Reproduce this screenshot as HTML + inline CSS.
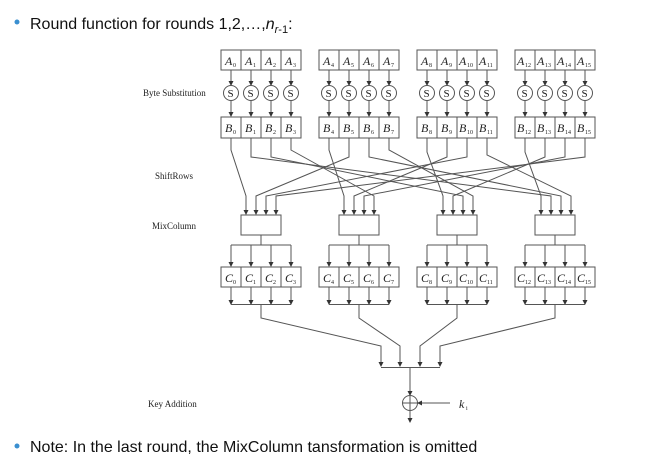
<!DOCTYPE html>
<html><head><meta charset="utf-8"><style>
body{margin:0;background:#fff;width:646px;height:476px;overflow:hidden}
svg{display:block}
.t{font-family:"Liberation Sans",Arial,sans-serif;font-size:16px;fill:#111}
.lab{font-family:"Liberation Serif",serif;font-size:9px;fill:#222}
.c{font-family:"Liberation Serif",serif;font-style:italic;font-size:12px;fill:#222}
.s{font-family:"Liberation Serif",serif;font-size:6px;fill:#222}
.S{font-family:"Liberation Serif",serif;font-size:11px;fill:#222}
line,path,rect,circle{stroke:#555;stroke-width:1;fill:none}
</style></head><body>
<svg width="646" height="476" xmlns="http://www.w3.org/2000/svg">
<defs>
<marker id="a" markerWidth="5" markerHeight="5" refX="4" refY="2.5" orient="auto" markerUnits="userSpaceOnUse"><path d="M0,0 L5,2.5 L0,5z" style="fill:#333;stroke:none"/></marker>
<g id="grp">
<rect x="0" y="50" width="80" height="20"/><line x1="20" y1="50" x2="20" y2="70"/><line x1="40" y1="50" x2="40" y2="70"/><line x1="60" y1="50" x2="60" y2="70"/>
<line x1="10" y1="70" x2="10" y2="85" marker-end="url(#a)"/><line x1="30" y1="70" x2="30" y2="85" marker-end="url(#a)"/><line x1="50" y1="70" x2="50" y2="85" marker-end="url(#a)"/><line x1="70" y1="70" x2="70" y2="85" marker-end="url(#a)"/>
<circle cx="10" cy="93" r="7.5"/><circle cx="30" cy="93" r="7.5"/><circle cx="50" cy="93" r="7.5"/><circle cx="70" cy="93" r="7.5"/>
<text class="S" x="6.5" y="97">S</text><text class="S" x="26.5" y="97">S</text><text class="S" x="46.5" y="97">S</text><text class="S" x="66.5" y="97">S</text>
<line x1="10" y1="100.5" x2="10" y2="116" marker-end="url(#a)"/><line x1="30" y1="100.5" x2="30" y2="116" marker-end="url(#a)"/><line x1="50" y1="100.5" x2="50" y2="116" marker-end="url(#a)"/><line x1="70" y1="100.5" x2="70" y2="116" marker-end="url(#a)"/>
<rect x="0" y="117" width="80" height="21"/><line x1="20" y1="117" x2="20" y2="138"/><line x1="40" y1="117" x2="40" y2="138"/><line x1="60" y1="117" x2="60" y2="138"/>
<rect x="20" y="215" width="40" height="20"/>
<line x1="40" y1="235" x2="40" y2="245"/><line x1="10" y1="245" x2="70" y2="245"/>
<line x1="10" y1="245" x2="10" y2="266" marker-end="url(#a)"/><line x1="30" y1="245" x2="30" y2="266" marker-end="url(#a)"/><line x1="50" y1="245" x2="50" y2="266" marker-end="url(#a)"/><line x1="70" y1="245" x2="70" y2="266" marker-end="url(#a)"/>
<rect x="0" y="267" width="80" height="20"/><line x1="20" y1="267" x2="20" y2="287"/><line x1="40" y1="267" x2="40" y2="287"/><line x1="60" y1="267" x2="60" y2="287"/>
<line x1="10" y1="287" x2="10" y2="304" marker-end="url(#a)"/><line x1="30" y1="287" x2="30" y2="304" marker-end="url(#a)"/><line x1="50" y1="287" x2="50" y2="304" marker-end="url(#a)"/><line x1="70" y1="287" x2="70" y2="304" marker-end="url(#a)"/>
<line x1="10" y1="304.5" x2="70" y2="304.5"/>
</g>
</defs>
<circle cx="17" cy="22" r="2.5" style="fill:#3a8fd0;stroke:none"/>
<text class="t" x="30" y="29">Round function for rounds 1,2,…,<tspan font-style="italic">n</tspan><tspan font-size="11" dy="4" font-style="italic">r</tspan><tspan font-size="11">-1</tspan><tspan dy="-4">:</tspan></text>
<circle cx="17" cy="446" r="2.5" style="fill:#3a8fd0;stroke:none"/>
<text class="t" x="30" y="452">Note: In the last round, the MixColumn tansformation is omitted</text>

<text class="lab" x="143" y="96">Byte Substitution</text>
<text class="lab" x="155" y="179">ShiftRows</text>
<text class="lab" x="152" y="229">MixColumn</text>
<text class="lab" x="148" y="407">Key Addition</text>

<use href="#grp" x="221"/><use href="#grp" x="319"/><use href="#grp" x="417"/><use href="#grp" x="515"/>

<g>
<text class="c" x="225" y="65">A</text><text class="s" x="233" y="67">0</text>
<text class="c" x="245" y="65">A</text><text class="s" x="253" y="67">1</text>
<text class="c" x="265" y="65">A</text><text class="s" x="273" y="67">2</text>
<text class="c" x="285" y="65">A</text><text class="s" x="293" y="67">3</text>
<text class="c" x="323" y="65">A</text><text class="s" x="331" y="67">4</text>
<text class="c" x="343" y="65">A</text><text class="s" x="351" y="67">5</text>
<text class="c" x="363" y="65">A</text><text class="s" x="371" y="67">6</text>
<text class="c" x="383" y="65">A</text><text class="s" x="391" y="67">7</text>
<text class="c" x="421" y="65">A</text><text class="s" x="429" y="67">8</text>
<text class="c" x="441" y="65">A</text><text class="s" x="449" y="67">9</text>
<text class="c" x="459" y="65">A</text><text class="s" x="467" y="67">10</text>
<text class="c" x="479" y="65">A</text><text class="s" x="487" y="67">11</text>
<text class="c" x="517" y="65">A</text><text class="s" x="525" y="67">12</text>
<text class="c" x="537" y="65">A</text><text class="s" x="545" y="67">13</text>
<text class="c" x="557" y="65">A</text><text class="s" x="565" y="67">14</text>
<text class="c" x="577" y="65">A</text><text class="s" x="585" y="67">15</text>

<text class="c" x="225" y="132">B</text><text class="s" x="233" y="134">0</text>
<text class="c" x="245" y="132">B</text><text class="s" x="253" y="134">1</text>
<text class="c" x="265" y="132">B</text><text class="s" x="273" y="134">2</text>
<text class="c" x="285" y="132">B</text><text class="s" x="293" y="134">3</text>
<text class="c" x="323" y="132">B</text><text class="s" x="331" y="134">4</text>
<text class="c" x="343" y="132">B</text><text class="s" x="351" y="134">5</text>
<text class="c" x="363" y="132">B</text><text class="s" x="371" y="134">6</text>
<text class="c" x="383" y="132">B</text><text class="s" x="391" y="134">7</text>
<text class="c" x="421" y="132">B</text><text class="s" x="429" y="134">8</text>
<text class="c" x="441" y="132">B</text><text class="s" x="449" y="134">9</text>
<text class="c" x="459" y="132">B</text><text class="s" x="467" y="134">10</text>
<text class="c" x="479" y="132">B</text><text class="s" x="487" y="134">11</text>
<text class="c" x="517" y="132">B</text><text class="s" x="525" y="134">12</text>
<text class="c" x="537" y="132">B</text><text class="s" x="545" y="134">13</text>
<text class="c" x="557" y="132">B</text><text class="s" x="565" y="134">14</text>
<text class="c" x="577" y="132">B</text><text class="s" x="585" y="134">15</text>

<text class="c" x="225" y="282">C</text><text class="s" x="233" y="284">0</text>
<text class="c" x="245" y="282">C</text><text class="s" x="253" y="284">1</text>
<text class="c" x="265" y="282">C</text><text class="s" x="273" y="284">2</text>
<text class="c" x="285" y="282">C</text><text class="s" x="293" y="284">3</text>
<text class="c" x="323" y="282">C</text><text class="s" x="331" y="284">4</text>
<text class="c" x="343" y="282">C</text><text class="s" x="351" y="284">5</text>
<text class="c" x="363" y="282">C</text><text class="s" x="371" y="284">6</text>
<text class="c" x="383" y="282">C</text><text class="s" x="391" y="284">7</text>
<text class="c" x="421" y="282">C</text><text class="s" x="429" y="284">8</text>
<text class="c" x="441" y="282">C</text><text class="s" x="449" y="284">9</text>
<text class="c" x="459" y="282">C</text><text class="s" x="467" y="284">10</text>
<text class="c" x="479" y="282">C</text><text class="s" x="487" y="284">11</text>
<text class="c" x="517" y="282">C</text><text class="s" x="525" y="284">12</text>
<text class="c" x="537" y="282">C</text><text class="s" x="545" y="284">13</text>
<text class="c" x="557" y="282">C</text><text class="s" x="565" y="284">14</text>
<text class="c" x="577" y="282">C</text><text class="s" x="585" y="284">15</text>
</g>

<!-- ShiftRows -->
<g>
<path d="M231,138 V150 L246,196 V214" marker-end="url(#a)"/>
<path d="M251,138 V157 L551,196 V214" marker-end="url(#a)"/>
<path d="M271,138 V157 L463,196 V214" marker-end="url(#a)"/>
<path d="M291,138 V150 L374,196 V214" marker-end="url(#a)"/>
<path d="M329,138 V150 L344,196 V214" marker-end="url(#a)"/>
<path d="M349,138 V157 L256,196 V214" marker-end="url(#a)"/>
<path d="M369,138 V157 L561,196 V214" marker-end="url(#a)"/>
<path d="M389,138 V150 L473,196 V214" marker-end="url(#a)"/>
<path d="M427,138 V152 L443,196 V214" marker-end="url(#a)"/>
<path d="M447,138 V157 L354,196 V214" marker-end="url(#a)"/>
<path d="M467,138 V157 L266,196 V214" marker-end="url(#a)"/>
<path d="M487,138 V155 L571,196 V214" marker-end="url(#a)"/>
<path d="M525,138 V152 L541,196 V214" marker-end="url(#a)"/>
<path d="M545,138 V157 L453,196 V214" marker-end="url(#a)"/>
<path d="M565,138 V157 L364,196 V214" marker-end="url(#a)"/>
<path d="M585,138 V157 L276,196 V214" marker-end="url(#a)"/>
</g>

<!-- merge -->
<path d="M261,304 V318 L381,346 V366" marker-end="url(#a)"/>
<path d="M359,304 V318 L400,346 V366" marker-end="url(#a)"/>
<path d="M457,304 V318 L420,346 V366" marker-end="url(#a)"/>
<path d="M555,304 V318 L440,346 V366" marker-end="url(#a)"/>
<line x1="381" y1="367.5" x2="440" y2="367.5"/>
<line x1="410" y1="367.5" x2="410" y2="395" marker-end="url(#a)"/>
<circle cx="410" cy="403" r="7.5"/>
<line x1="402.5" y1="403" x2="417.5" y2="403"/><line x1="410" y1="395.5" x2="410" y2="410.5"/>
<line x1="450" y1="403" x2="418" y2="403" marker-end="url(#a)"/>
<line x1="410" y1="410.5" x2="410" y2="422" marker-end="url(#a)"/>
<text class="c" x="459" y="408">k</text><text class="s" x="466" y="410">i</text>
</svg>
</body></html>
